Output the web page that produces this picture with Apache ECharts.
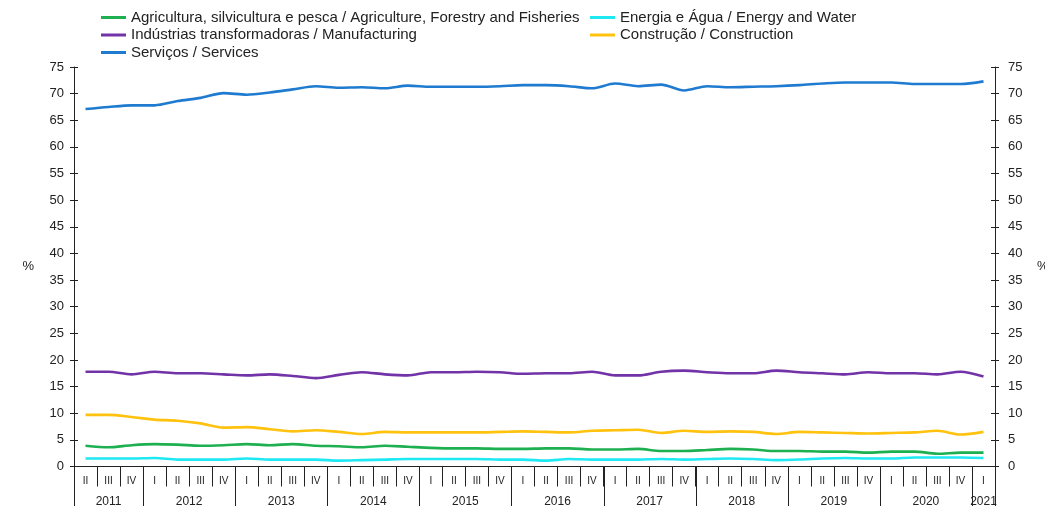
<!DOCTYPE html>
<html>
<head>
<meta charset="utf-8">
<script src="https://cdn.jsdelivr.net/npm/echarts@6/dist/echarts.min.js"></script>
<style>
  html, body { margin: 0; padding: 0; background: #fff; }
  #chart { width: 1045px; height: 506px; }
</style>
</head>
<body>
<div id="chart"></div>
<script>
// quarters 2011 II .. 2021 I
const quarters = ['II','III','IV',
  'I','II','III','IV', 'I','II','III','IV', 'I','II','III','IV',
  'I','II','III','IV', 'I','II','III','IV', 'I','II','III','IV',
  'I','II','III','IV', 'I','II','III','IV', 'I','II','III','IV',
  'I'];
const years = ['2011','2011','2011',
  '2012','2012','2012','2012', '2013','2013','2013','2013', '2014','2014','2014','2014',
  '2015','2015','2015','2015', '2016','2016','2016','2016', '2017','2017','2017','2017',
  '2018','2018','2018','2018', '2019','2019','2019','2019', '2020','2020','2020','2020',
  '2021'];

const agriculture = [3.9, 3.6, 4.0, 4.2, 4.1, 3.9, 4.0, 4.2, 4.0, 4.2, 3.9, 3.8,
  3.6, 3.9, 3.7, 3.5, 3.4, 3.4, 3.3, 3.3, 3.4, 3.4, 3.2, 3.2, 3.3, 2.9,
  2.9, 3.1, 3.3, 3.2, 2.9, 2.9, 2.8, 2.8, 2.6, 2.8, 2.8, 2.4, 2.6, 2.6];
const energy = [1.5, 1.5, 1.5, 1.6, 1.3, 1.3, 1.3, 1.5, 1.3, 1.3, 1.3, 1.1,
  1.2, 1.3, 1.4, 1.4, 1.4, 1.4, 1.3, 1.3, 1.1, 1.4, 1.3, 1.3, 1.3, 1.4,
  1.3, 1.4, 1.5, 1.4, 1.2, 1.3, 1.5, 1.6, 1.5, 1.5, 1.7, 1.7, 1.7, 1.6];
const manufacturing = [17.8, 17.8, 17.3, 17.8, 17.5, 17.5, 17.3, 17.1, 17.3, 17.0, 16.6, 17.2,
  17.7, 17.3, 17.1, 17.7, 17.7, 17.8, 17.7, 17.4, 17.5, 17.5, 17.8, 17.1, 17.1, 17.8,
  18.0, 17.7, 17.5, 17.5, 18.0, 17.7, 17.5, 17.3, 17.7, 17.5, 17.5, 17.3, 17.8, 16.9];
const construction = [9.7, 9.7, 9.3, 8.8, 8.6, 8.1, 7.3, 7.4, 7.0, 6.6, 6.8, 6.5,
  6.1, 6.5, 6.4, 6.4, 6.4, 6.4, 6.5, 6.6, 6.5, 6.4, 6.7, 6.8, 6.9, 6.3,
  6.7, 6.5, 6.6, 6.5, 6.1, 6.5, 6.4, 6.3, 6.2, 6.3, 6.4, 6.7, 6.0, 6.5];
const services = [67.1, 67.5, 67.8, 67.8, 68.6, 69.2, 70.1, 69.8, 70.2, 70.8, 71.4, 71.1,
  71.2, 71.0, 71.5, 71.3, 71.3, 71.3, 71.4, 71.6, 71.6, 71.4, 71.0, 71.9, 71.4, 71.7,
  70.6, 71.4, 71.2, 71.3, 71.4, 71.6, 71.9, 72.1, 72.1, 72.1, 71.8, 71.8, 71.8, 72.3];

const names = [
  'Agricultura, silvicultura e pesca / Agriculture, Forestry and Fisheries',
  'Energia e Água / Energy and Water',
  'Indústrias transformadoras / Manufacturing',
  'Construção / Construction',
  'Serviços / Services'
];
const colors = ['#1eb050', '#1ee8f2', '#7232a8', '#ffc20e', '#1f7bd0'];
const values = [agriculture, energy, manufacturing, construction, services];

const font = 'Liberation Sans, Arial, sans-serif';
const ink = '#222';

// year label sits on the middle of its quarters
function yearLabel(value, index) {
  const first = years.indexOf(value);
  const count = years.filter(y => y === value).length;
  if (count === 4 && index === first + 1) return '{shift|' + value + '}';
  if (count === 3 && index === first + 1) return value;
  if (count === 1) return value;
  return '';
}

// year separators: left edge of first quarter of each year, plus the right end
const yearEdges = [[0, -0.5]];
quarters.forEach((q, i) => { if (q === 'I') yearEdges.push([i, -0.5]); });
yearEdges.push([quarters.length - 1, 0.5]);

const chart = echarts.init(document.getElementById('chart'));

const legendBase = {
  orient: 'vertical',
  padding: 0,
  icon: 'rect',
  itemWidth: 25,
  itemHeight: 3,
  itemGap: 2.5,
  textStyle: { fontFamily: font, fontSize: 15, color: ink, lineHeight: 15 }
};

const yBase = {
  type: 'value', min: 0, max: 75, interval: 5,
  splitLine: { show: false }
};

const lineSeries = names.map((name, k) => ({
  name: name,
  type: 'line',
  data: values[k],
  xAxisIndex: 0,
  yAxisIndex: 0,
  smooth: 0.3,
  showSymbol: false,
  color: colors[k],
  lineStyle: { width: 2.6, color: colors[k] }
}));

chart.setOption({
  animation: false,
  textStyle: { fontFamily: font },
  legend: [
    Object.assign({ left: 101, top: 10, data: [names[0], names[2], names[4]] }, legendBase),
    Object.assign({ left: 590, top: 10, data: [names[1], names[3]] }, legendBase)
  ],
  grid: { left: 74, right: 50, top: 67, bottom: 39.5, outerBoundsMode: 'none', containLabel: false },
  xAxis: [
    {
      type: 'category',
      data: quarters,
      boundaryGap: true,
      axisLine: { show: true, lineStyle: { color: ink, width: 1 } },
      axisTick: { show: true, length: 20, interval: 0, lineStyle: { color: ink, width: 1 } },
      axisLabel: { interval: 0, margin: 10, fontSize: 10, color: ink, fontFamily: font }
    },
    {
      type: 'category',
      data: years,
      boundaryGap: true,
      position: 'bottom',
      offset: 20,
      axisLine: { show: false },
      axisTick: { show: false },
      axisLabel: {
        interval: 0, margin: 9, fontSize: 12, color: ink, fontFamily: font,
        formatter: (v, i) => yearLabel(v, i),
        rich: { shift: { padding: [0, 0, 0, 23], fontSize: 12, color: ink, fontFamily: font } }
      }
    }
  ],
  yAxis: [
    Object.assign({
      position: 'left',
      name: '%', nameLocation: 'middle', nameRotate: 0, nameGap: 40,
      nameTextStyle: { fontSize: 13, color: ink, fontFamily: font },
      axisLine: { show: true, lineStyle: { color: ink } },
      axisTick: { show: true, length: 4, lineStyle: { color: ink } },
      axisLabel: { margin: 10, fontSize: 13, color: ink, fontFamily: font }
    }, yBase),
    Object.assign({
      position: 'left',
      axisLine: { show: false },
      axisTick: { show: true, inside: true, length: 4, lineStyle: { color: ink } },
      axisLabel: { show: false }
    }, yBase),
    Object.assign({
      position: 'right',
      name: '%', nameLocation: 'middle', nameRotate: 0, nameGap: 42,
      nameTextStyle: { fontSize: 13, color: ink, fontFamily: font },
      axisLine: { show: true, lineStyle: { color: ink } },
      axisTick: { show: true, length: 4, lineStyle: { color: ink } },
      axisLabel: { margin: 13, fontSize: 13, color: ink, fontFamily: font }
    }, yBase),
    Object.assign({
      position: 'right',
      axisLine: { show: false },
      axisTick: { show: true, inside: true, length: 4, lineStyle: { color: ink } },
      axisLabel: { show: false }
    }, yBase)
  ],
  series: lineSeries.concat([{
    name: 'year-separators',
    type: 'custom',
    xAxisIndex: 0,
    yAxisIndex: 0,
    clip: false,
    silent: true,
    data: yearEdges,
    renderItem: function (params, api) {
      const base = api.coord([api.value(0), 0]);
      const band = api.size([1, 0])[0];
      const x = Math.round(base[0] + api.value(1) * band) + 0.5;
      return {
        type: 'line',
        shape: { x1: x, y1: base[1], x2: x, y2: base[1] + 42 },
        style: { stroke: ink, lineWidth: 1 }
      };
    }
  }])
});
</script>
</body>
</html>
